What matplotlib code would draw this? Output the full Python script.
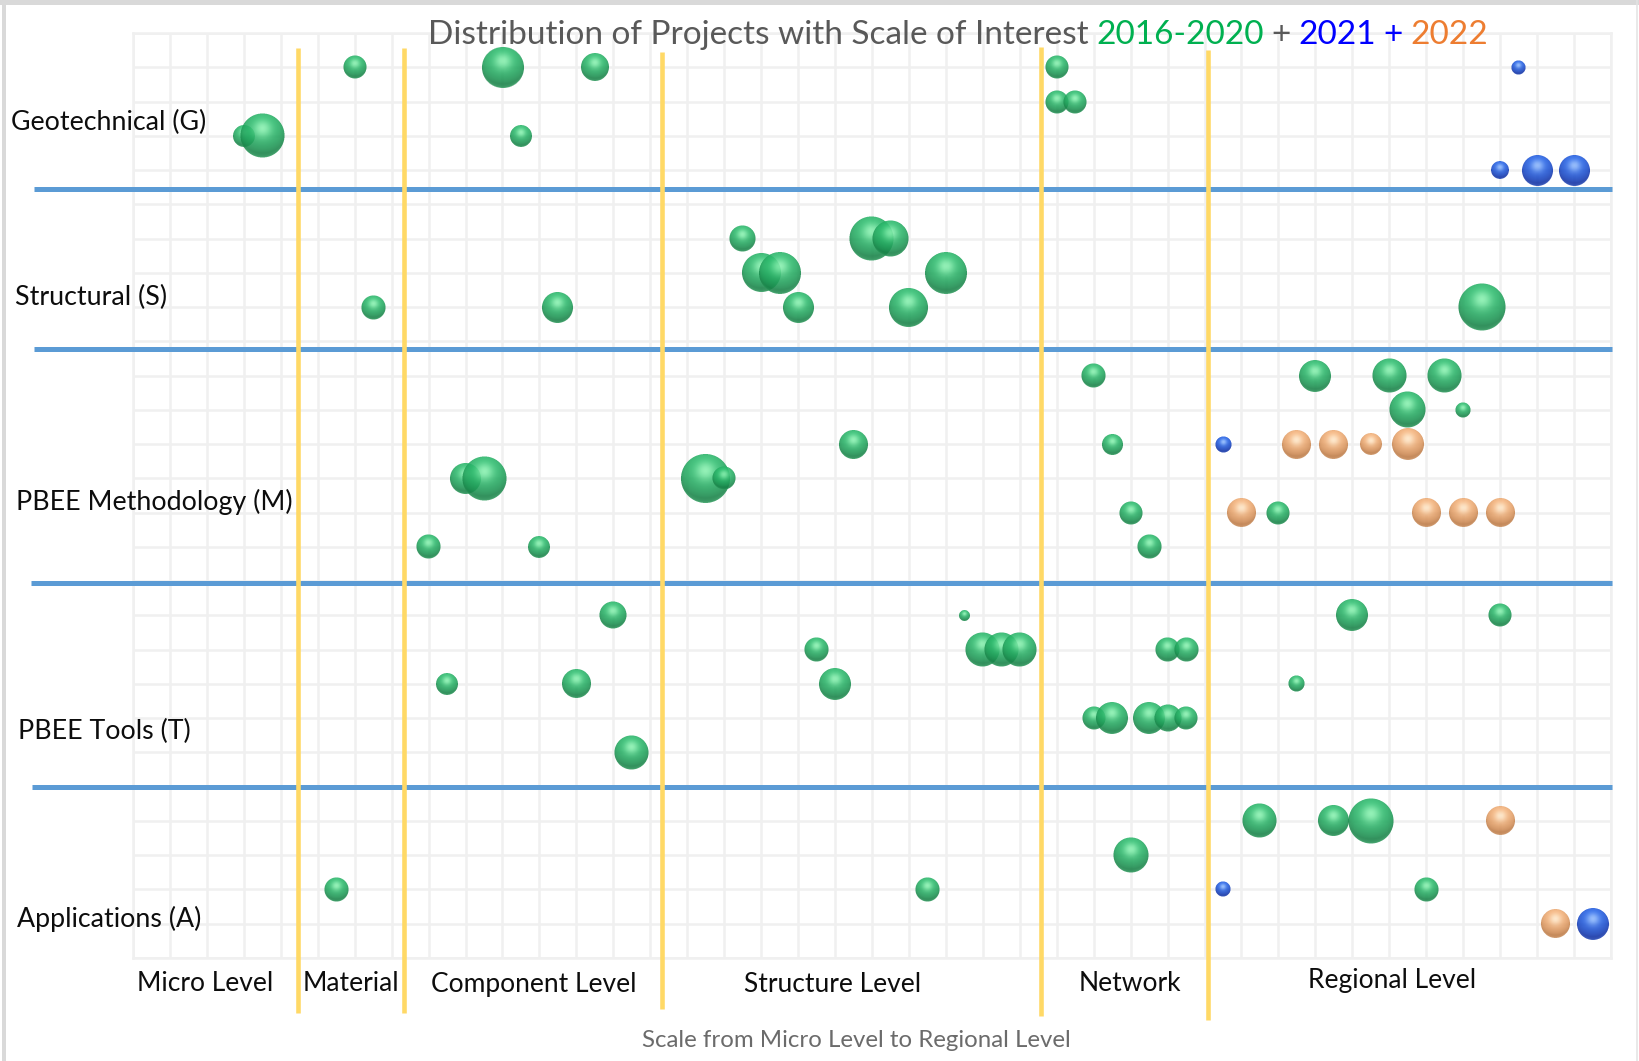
import numpy as np
import matplotlib
matplotlib.use("Agg")
import matplotlib.pyplot as plt
from matplotlib.patches import Rectangle
from matplotlib.lines import Line2D
from matplotlib.offsetbox import OffsetImage, AnnotationBbox, TextArea, HPacker

# ------------------------------------------------------------------ data
row_labels = ["Geotechnical (G)", "Structural (S)", "PBEE Methodology (M)",
              "PBEE Tools (T)", "Applications (A)"]
scale_labels = ["Micro Level", "Material", "Component Level",
                "Structure Level", "Network", "Regional Level"]
x_title = "Scale from Micro Level to Regional Level"

# projects 2016-2020: position along the scale axis, row position, bubble size
x_2016_2020 = [6, 10, 12.5, 3, 3.5, 10.5, 25, 25, 25.5,
               6.5, 11.5, 16.5, 17, 17.5, 18, 20, 20.5, 21, 22, 36.5,
               9, 9.5, 8, 11, 15.5, 16, 19.5, 26, 26.5, 27, 27.5, 32, 34, 35.5, 34.5, 36, 31,
               13, 18.5, 19, 22.5, 23, 23.5, 24, 28, 28.5, 26, 26.5, 27.5, 28, 28.5,
               13.5, 8.5, 12, 33, 37, 31.5,
               5.5, 21.5, 27, 30.5, 32.5, 33.5, 35]
y_2016_2020 = [26, 26, 26, 24, 24, 24, 26, 25, 25,
               19, 19, 21, 20, 20, 19, 21, 21, 19, 20, 19,
               14, 14, 12, 12, 14, 14, 15, 17, 15, 13, 12, 17, 17, 17, 16, 16, 13,
               10, 9, 8, 10, 9, 9, 9, 9, 9, 7, 7, 7, 7, 7,
               6, 8, 8, 10, 10, 8,
               2, 2, 3, 4, 4, 4, 2]
s_2016_2020 = [5.3, 16.8, 7.8, 4.8, 19.4, 4.8, 5.3, 5.3, 5.3,
               5.8, 9.6, 6.8, 15.2, 17.6, 9.6, 19.4, 13.0, 15.2, 17.6, 22.1,
               9.6, 19.4, 5.8, 4.8, 24.0, 5.3, 8.4, 5.8, 4.4, 5.3, 5.8, 10.2, 11.6, 11.6, 13.0, 2.3, 5.3,
               7.3, 5.8, 10.2, 1.2, 11.6, 11.6, 11.6, 5.8, 5.8, 5.3, 10.2, 10.2, 7.3, 5.3,
               11.6, 4.8, 8.4, 10.2, 5.3, 2.6,
               5.8, 5.8, 12.3, 11.6, 9.6, 20.3, 5.8]

# projects 2021
x_2021 = [37.5, 37, 38, 39, 29.5, 29.5, 39.5]
y_2021 = [26, 23, 23, 23, 15, 2, 1]
s_2021 = [2.0, 3.2, 9.6, 9.6, 2.6, 2.3, 10.2]

# projects 2022
x_2022 = [31.5, 32.5, 33.5, 34.5, 30, 35, 36, 37, 37, 38.5]
y_2022 = [15, 15, 15, 15, 13, 13, 13, 13, 4, 1]
s_2022 = [8.4, 8.4, 4.8, 10.2, 8.4, 8.4, 8.4, 8.4, 8.4, 8.4]

# group boundaries along the scale axis and between topic rows
scale_bounds = [4.47, 7.33, 14.33, 24.57, 29.09]
topic_bounds = [22.45, 17.78, 10.95, 4.99]

# ------------------------------------------------------------------ figure
W, H, DPI = 1640, 1061, 100
fig = plt.figure(figsize=(W / DPI, H / DPI), dpi=DPI)
fig.patch.set_facecolor("white")
FONT = ["Lato", "DejaVu Sans"]

def fx(px):
    return px / W

def fy(px):
    return 1 - px / H

ax = fig.add_axes([fx(133), fy(958), fx(1611) - fx(133), fy(33) - fy(958)])
ax.set_xlim(0, 40)
ax.set_ylim(0, 27)
ax.set_xticks(np.arange(0, 41))
ax.set_yticks(np.arange(0, 28))
ax.tick_params(length=0, labelbottom=False, labelleft=False)
ax.grid(True, color="#F0F0F0", lw=1.8)
ax.set_axisbelow(True)
for sp in ax.spines.values():
    sp.set_color("#F0F0F0")
    sp.set_linewidth(1.8)

# thin frame around the picture
fig.patches.append(Rectangle((0, fy(5)), 1, fy(0) - fy(5), transform=fig.transFigure,
                             color="#D9D9D9", lw=0, zorder=0))
fig.patches.append(Rectangle((fx(2), 0), fx(4), 1, transform=fig.transFigure,
                             color="#D9D9D9", lw=0, zorder=0))
fig.lines.append(Line2D([fx(1637.5)] * 2, [0, 1], transform=fig.transFigure,
                        color="#E3E3E3", lw=1.1))

# topic separators
x_start = [-2.68, -2.68, -2.76, -2.73]
for yb, xs in zip(topic_bounds, x_start):
    ax.plot([xs, 40.03], [yb, yb], color="#5B9BD5", lw=3.6, clip_on=False,
            solid_capstyle="butt", zorder=3)

# scale-group separators
y_ends = [(26.56, -1.60), (26.56, -1.60), (26.45, -1.48), (26.58, -1.69), (26.50, -1.81)]
for xb, (y0, y1) in zip(scale_bounds, y_ends):
    ax.plot([xb, xb], [y0, y1], color="#FFD966", lw=3.3, clip_on=False,
            solid_capstyle="butt", zorder=4)


# ------------------------------------------------------------------ bubbles
def sphere_rgba(d, dark, mid, light, alpha=0.88, ss=4):
    n = int(np.ceil(d)) + 4
    N = n * ss
    c = (N - 1) / 2.0
    yy, xx = np.mgrid[0:N, 0:N]
    rad = d * ss / 2.0
    u = (xx - c) / rad
    v = -(yy - c) / rad
    r2 = u * u + v * v
    inside = (r2 <= 1.0).astype(float)
    nz = np.sqrt(np.clip(1 - r2, 0, 1))
    L = np.array([0.0, 0.62, 0.78])
    L /= np.linalg.norm(L)
    Hh = L + np.array([0, 0, 1.0])
    Hh /= np.linalg.norm(Hh)
    diff = np.clip(u * L[0] + v * L[1] + nz * L[2], 0, 1)
    spec = np.clip(u * Hh[0] + v * Hh[1] + nz * Hh[2], 0, 1) ** 12
    dark, mid, light = (np.array(dark), np.array(mid), np.array(light))
    t = diff[..., None] ** 0.8
    col = dark * (1 - t) + mid * t
    s = (spec * 0.85)[..., None]
    col = col * (1 - s) + light * s
    rim = (np.clip(-v, 0, 1) * (1 - nz) ** 3 * 0.45)[..., None]
    col = col * (1 - rim) + light * rim
    a = inside * alpha
    prem = col * a[..., None]
    prem = prem.reshape(n, ss, n, ss, 3).mean(axis=(1, 3))
    a = a.reshape(n, ss, n, ss).mean(axis=(1, 3))
    rgb = np.where(a[..., None] > 0, prem / np.maximum(a[..., None], 1e-6), 0)
    return np.dstack([np.clip(rgb, 0, 1), a])


palettes = {
    "2016-2020": ((0.08, 0.50, 0.27), (0.18, 0.75, 0.44), (0.58, 0.97, 0.72)),
    "2021": ((0.05, 0.18, 0.64), (0.15, 0.40, 0.92), (0.60, 0.76, 1.00)),
    "2022": ((0.74, 0.47, 0.26), (0.97, 0.71, 0.49), (1.00, 0.93, 0.82)),
}

series = [("2016-2020", x_2016_2020, y_2016_2020, s_2016_2020),
          ("2021", x_2021, y_2021, s_2021),
          ("2022", x_2022, y_2022, s_2022)]

for name, xs, ys, ss_ in series:
    dark, mid, light = palettes[name]
    for x, y, s in zip(xs, ys, ss_):
        d = 10.0 * np.sqrt(s)
        img = sphere_rgba(d, dark, mid, light)
        ab = AnnotationBbox(OffsetImage(img, zoom=72.0 / DPI), (x, y), xycoords="data",
                            frameon=False, pad=0, box_alignment=(0.5, 0.5),
                            annotation_clip=False, zorder=5)
        ax.add_artist(ab)

# ------------------------------------------------------------------ texts
title_parts = [("Distribution of Projects with Scale of Interest", "#595959"),
               ("2016-2020", "#00B050"), ("+", "#595959"), ("2021", "#0000FF"),
               ("+", "#0000FF"), ("2022", "#ED7D31")]
boxes = [TextArea(t, textprops=dict(color=c, fontsize=24, family=FONT)) for t, c in title_parts]
pack = HPacker(children=boxes, align="baseline", pad=0, sep=5.5)
fig.add_artist(AnnotationBbox(pack, (fx(958), fy(50)), xycoords="figure fraction",
                              frameon=False, pad=0, box_alignment=(0.5, 0.0), zorder=10))

row_x = [11.5, 15.3, 16.0, 18.4, 16.7]
row_base = [130.5, 305, 510, 739, 926.7]
for lab, px, pb in zip(row_labels, row_x, row_base):
    fig.text(fx(px), fy(pb), lab, ha="left", va="baseline", fontsize=19.3,
             family=FONT, color="#0D0D0D")

scale_cx = [204.7, 351, 533.5, 833, 1130, 1392.5]
scale_base = [990.7, 990.7, 992.3, 992, 990.7, 988.3]
for lab, px, pb in zip(scale_labels, scale_cx, scale_base):
    fig.text(fx(px), fy(pb), lab, ha="center", va="baseline", fontsize=19,
             family=FONT, color="#0D0D0D")

fig.text(fx(856.7), fy(1046.7), x_title, ha="center", va="baseline", fontsize=17.3,
         family=FONT, color="#6B6B6B")

fig.savefig("out.png", dpi=DPI, facecolor="white")
